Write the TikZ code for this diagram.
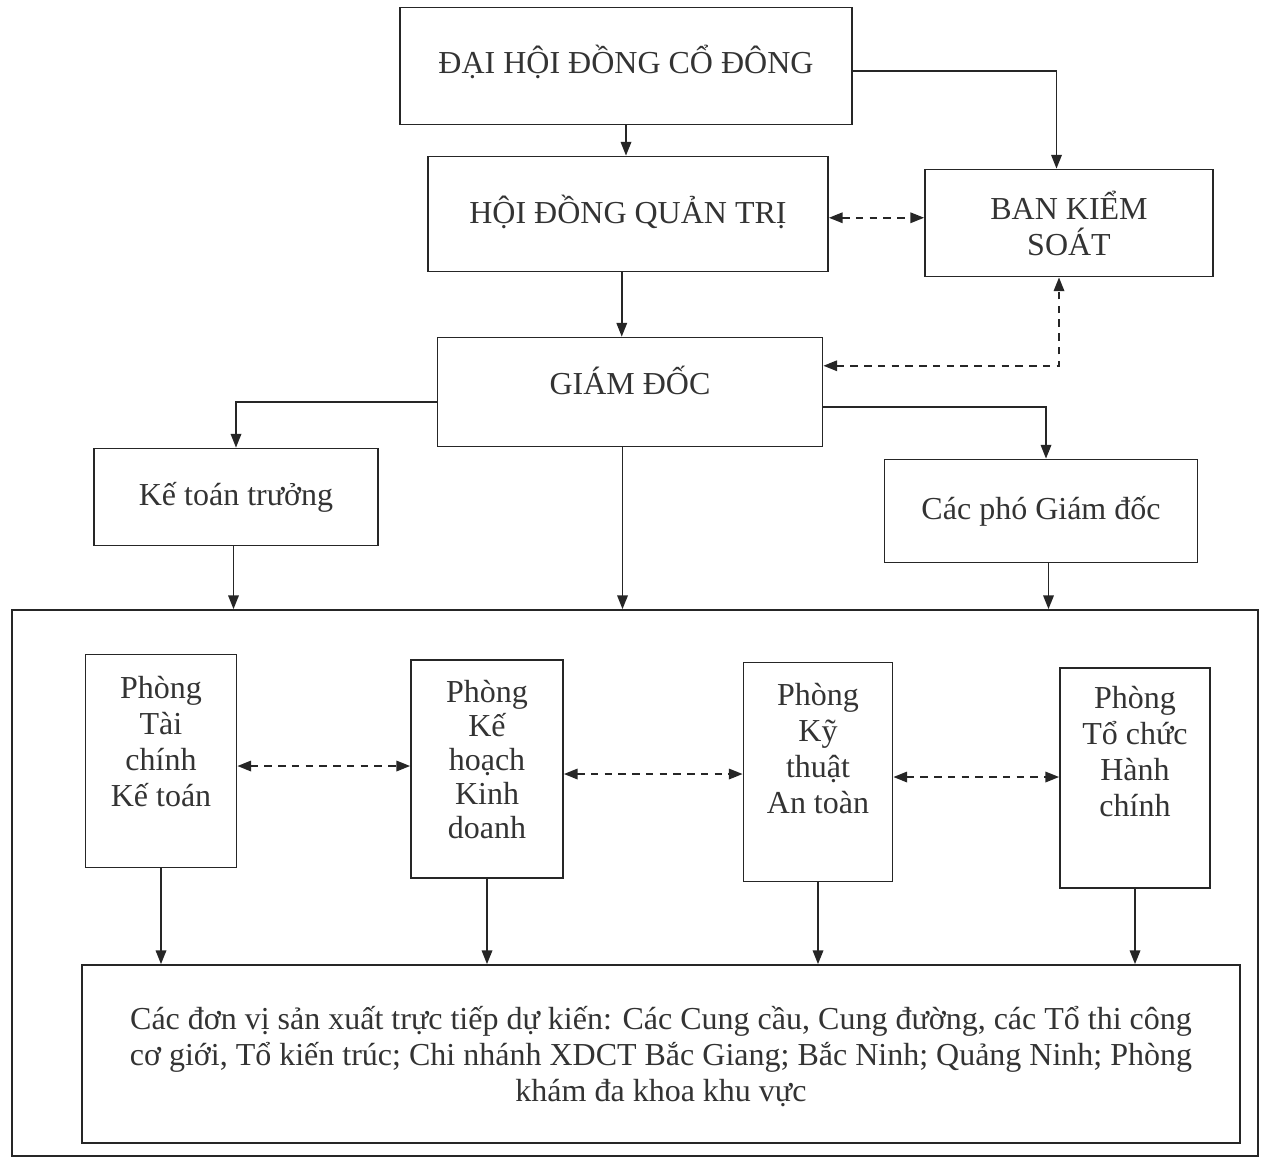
\documentclass[tikz,border=0pt]{standalone}
\usepackage{fontspec}
\setmainfont{Liberation Serif}
\usetikzlibrary{arrows.meta}
\begin{document}
\begin{tikzpicture}
[x=0.4pt,y=-0.4pt,line width=0.7pt,draw=black!85,
 >={Triangle[length=5.5pt,width=4.2pt]},
 box/.style={draw,align=center,inner sep=2pt,text=black!80,
   font=\fontsize{12.8}{14.4}\selectfont},
 link/.style={dashed,dash pattern=on 3pt off 2.5pt}]
\useasboundingbox (0,0) rectangle (1265,1162);
% khung cac phong ban
\path (635,883) node (kv) [box,minimum width=498.4pt,minimum height=218.4pt] {};
\path (626,66) node (dh) [box,minimum width=180.8pt,minimum height=46.8pt,text depth=5pt] {ĐẠI HỘI ĐỒNG CỔ ĐÔNG}
(628,214) node (hd) [box,minimum width=160pt,minimum height=46pt,text depth=4pt] {HỘI ĐỒNG QUẢN TRỊ}
(1069,223) node (bks) [box,minimum width=115.2pt,minimum height=42.8pt] {BAN KIỂM\\SOÁT}
(630,392) node (gd) [box,minimum width=154pt,minimum height=43.6pt,text depth=9pt] {GIÁM ĐỐC}
(236,497) node (ktt) [box,minimum width=113.6pt,minimum height=38.8pt] {Kế toán trưởng}
(1041,511) node (pgd) [box,minimum width=125.2pt,minimum height=41.2pt] {Các phó Giám đốc};
\path (161,761) node (p1) [box,minimum width=60.4pt,minimum height=85.2pt,text depth=16pt] {Phòng\\Tài\\chính\\Kế toán}
(487,769) node (p2) [box,minimum width=60.8pt,minimum height=87.2pt,text depth=8pt,
  font=\fontsize{12.8}{13.6}\selectfont] {Phòng\\Kế\\hoạch\\Kinh\\doanh}
(818,772) node (p3) [box,minimum width=59.6pt,minimum height=87.6pt,text depth=19pt] {Phòng\\Kỹ\\thuật\\An toàn}
(1135,778) node (p4) [box,minimum width=60pt,minimum height=88pt,text depth=21pt] {Phòng\\Tổ chức\\Hành\\chính}
(661,1054) node (dv) [box,minimum width=463.2pt,minimum height=71.2pt,text depth=0pt] {Các đơn vị sản xuất trực tiếp dự kiến: Các Cung cầu, Cung đường, các Tổ thi công\\cơ giới, Tổ kiến trúc; Chi nhánh XDCT Bắc Giang; Bắc Ninh; Quảng Ninh; Phòng\\khám đa khoa khu vực};
\draw [->] (dh.south) -- (dh.south |- hd.north);
\draw [->] ([yshift=-2pt]dh.east) -| ([xshift=-5pt]bks.north);
\draw [<->,link] ([yshift=-1.5pt]hd.east) -- ([yshift=-1.5pt]hd.east -| bks.west);
\draw [->] ([xshift=-2.5pt]hd.south) -- ([xshift=-2.5pt]hd.south |- gd.north);
\draw [<->,link] ([yshift=10.5pt]gd.east) -| ([xshift=-4pt]bks.south);
\draw [->] ([yshift=-4pt]gd.west) -| (ktt.north);
\draw [->] ([yshift=-6pt]gd.east) -| ([xshift=2pt]pgd.north);
\draw [->] ([xshift=-3pt]gd.south) -- ([xshift=-3pt]gd.south |- kv.north);
\draw [->] ([xshift=-1pt]ktt.south) -- ([xshift=-1pt]ktt.south |- kv.north);
\draw [->] ([xshift=3pt]pgd.south) -- ([xshift=3pt]pgd.south |- kv.north);
\draw [<->,link] ([yshift=-2pt]p1.east) -- ([yshift=-2pt]p1.east -| p2.west);
\draw [<->,link] ([yshift=-2pt]p2.east) -- ([yshift=-2pt]p2.east -| p3.west);
\draw [<->,link] ([yshift=-2pt]p3.east) -- ([yshift=-2pt]p3.east -| p4.west);
\draw [->] (p1.south) -- (p1.south |- dv.north);
\draw [->] (p2.south) -- (p2.south |- dv.north);
\draw [->] (p3.south) -- (p3.south |- dv.north);
\draw [->] (p4.south) -- (p4.south |- dv.north);
\end{tikzpicture}
\end{document}
